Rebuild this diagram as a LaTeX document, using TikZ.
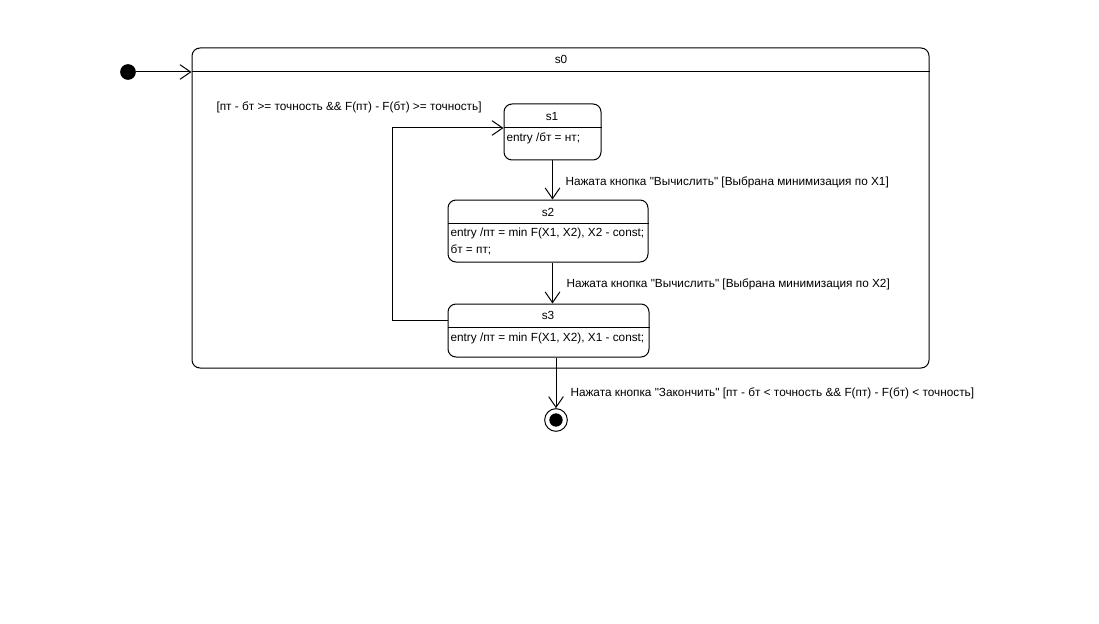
\documentclass[tikz,border=0pt]{standalone}
\usepackage{fontspec}
\setmainfont{Liberation Sans}[Ligatures=TeXOff]
\usetikzlibrary{arrows.meta,fit}
\begin{document}
\begin{tikzpicture}[x=0.75pt,y=-0.75pt,
  line width=0.75pt,
  every node/.style={font=\fontsize{8.85pt}{11pt}\selectfont},
  tip/.style={-{Straight Barb[length=8pt,width=11pt,line width=0.75pt]}},
  statebox/.style={draw,rounded corners=6pt,inner sep=0pt},
  lbl/.style={anchor=west,inner sep=0pt},
  ttl/.style={inner sep=0pt},
]
\useasboundingbox (0,0) rectangle (1099,624);

% composite state s0
\node[statebox,fit={(192,48) (929,368)}] (s0) {};
\draw (s0.west |- 0,72) -- (s0.east |- 0,72);
\node[ttl] at (561,59) {s0};

% initial pseudostate
\node[circle,fill=black,draw=black,inner sep=0pt,minimum size=11pt] (init) at (128,72) {};
\draw[tip] (init) -- (s0.west |- init);

% s1
\node[statebox,fit={(504,104) (601,160)}] (s1) {};
\draw (s1.west |- 0,128) -- (s1.east |- 0,128);
\node[ttl] at (552,116) {s1};
\node[lbl] at (506,138) {entry /бт = нт;};

% s2
\node[statebox,fit={(448,200) (648,262)}] (s2) {};
\draw (s2.west |- 0,223) -- (s2.east |- 0,223);
\node[ttl] at (548,212) {s2};
\node[lbl] at (450,233) {entry /пт = min F(X1, X2), X2 - const;};
\node[lbl] at (450,250) {бт = пт;};

% s3
\node[statebox,fit={(448,304) (649,357)}] (s3) {};
\draw (s3.west |- 0,327) -- (s3.east |- 0,327);
\node[ttl] at (548,315) {s3};
\node[lbl] at (450,338) {entry /пт = min F(X1, X2), X1 - const;};

% final state
\node[circle,draw=black,fill=white,minimum size=17pt,inner sep=0pt] (fin) at (556,420) {};
\node[circle,fill=black,minimum size=10pt,inner sep=0pt] (finc) at (fin) {};

% transitions
\draw[tip] (s1.south) -- (s1.south |- s2.north);
\node[lbl] at (565,182) {Нажата кнопка "Вычислить" [Выбрана минимизация по X1]};

\draw[tip] (s2.south -| s1.south) -- (s3.north -| s1.south);
\node[lbl] at (566,284) {Нажата кнопка "Вычислить" [Выбрана минимизация по X2]};

\draw[tip] (s3.west |- 0,320) -- (392,320) -- (392,128) -- (s1.west |- 0,128);
\node[lbl] at (216,107) {[пт - бт >= точность \&\& F(пт) - F(бт) >= точность]};

\draw[tip] (s3.south -| fin) -- (fin.north);
\node[lbl] at (570,393) {Нажата кнопка "Закончить" [пт - бт < точность \&\& F(пт) - F(бт) < точность]};
\end{tikzpicture}
\end{document}
